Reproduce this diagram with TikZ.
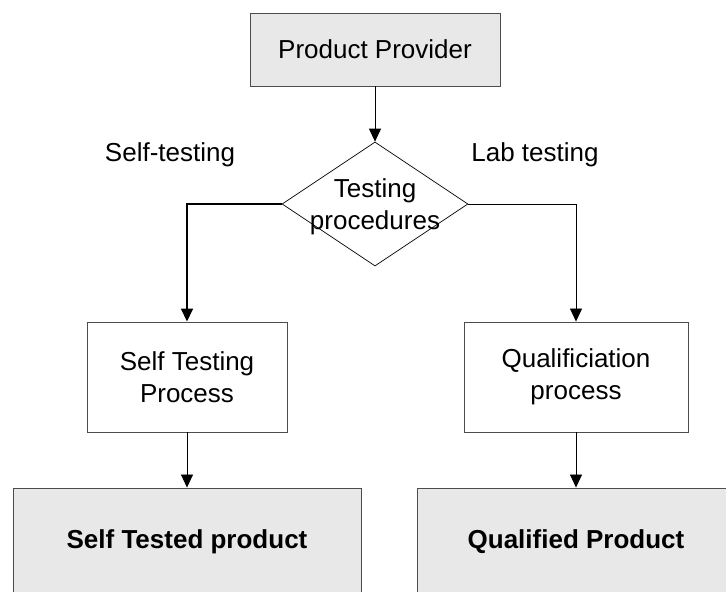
\documentclass[tikz,border=0pt]{standalone}
\usepackage{fontspec}
\setmainfont{Liberation Sans}
\usetikzlibrary{shapes.geometric,arrows.meta}

\begin{document}
\begin{tikzpicture}[x=1pt,y=1pt,
    font=\fontsize{26}{32}\selectfont,
    shadedbox/.style={draw=black!70, line width=0.9pt, fill=black!9, minimum height=73pt},
    procbox/.style={draw=black!70, line width=0.9pt, fill=white, align=center, minimum width=200pt, minimum height=110pt},
    decision/.style={draw, line width=0.7pt, diamond, minimum width=186pt, minimum height=124pt, inner sep=0pt},
    arrow/.style={line width=0.8pt, -{Triangle[width=12pt,length=13pt]}}]
        \useasboundingbox (0,0) rectangle (726,592); % dimensioni della figura
        \node[shadedbox, minimum width=250pt] (provider) at (375,542.5) {Product Provider}; % fornitore in alto
        \node[decision] (testing) at (375,388) {}; % rombo della scelta
        \node[align=center] (testinglbl) at (375,385) {Testing\\procedures}; % testo del rombo
        \node (selflbl) at (170,437) {Self-testing}; % ramo sinistro
        \node (lablbl) at (535,437) {Lab testing}; % ramo destro
        \node[procbox] (selfproc) at (187,215) {Self Testing\\Process}; % processo di autotest
        \node[procbox, minimum width=224pt] (qualproc) at (576,215) {Qualificiation\\process}; % processo di qualifica
        \node[shadedbox, minimum width=348pt, minimum height=108pt, font=\fontsize{26}{32}\selectfont\bfseries] (selftested) at (187,50) {Self Tested product}; % prodotto autotestato
        \node[shadedbox, minimum width=318pt, minimum height=108pt, font=\fontsize{26}{32}\selectfont\bfseries] (qualified) at (576,50) {Qualified Product}; % prodotto qualificato
        \draw[arrow] (provider) -- (testing.north); % freccia verso il rombo
        \draw[arrow, line width=1.6pt] (testing.west) -| (selfproc.north); % autotest
        \draw[arrow] (testing.east) -| (qualproc.north); % test in laboratorio
        \draw[arrow] (selfproc) -- (selftested); % risultato sinistro
        \draw[arrow] (qualproc) -- (qualified); % risultato destro
    \end{tikzpicture}
\end{document}
